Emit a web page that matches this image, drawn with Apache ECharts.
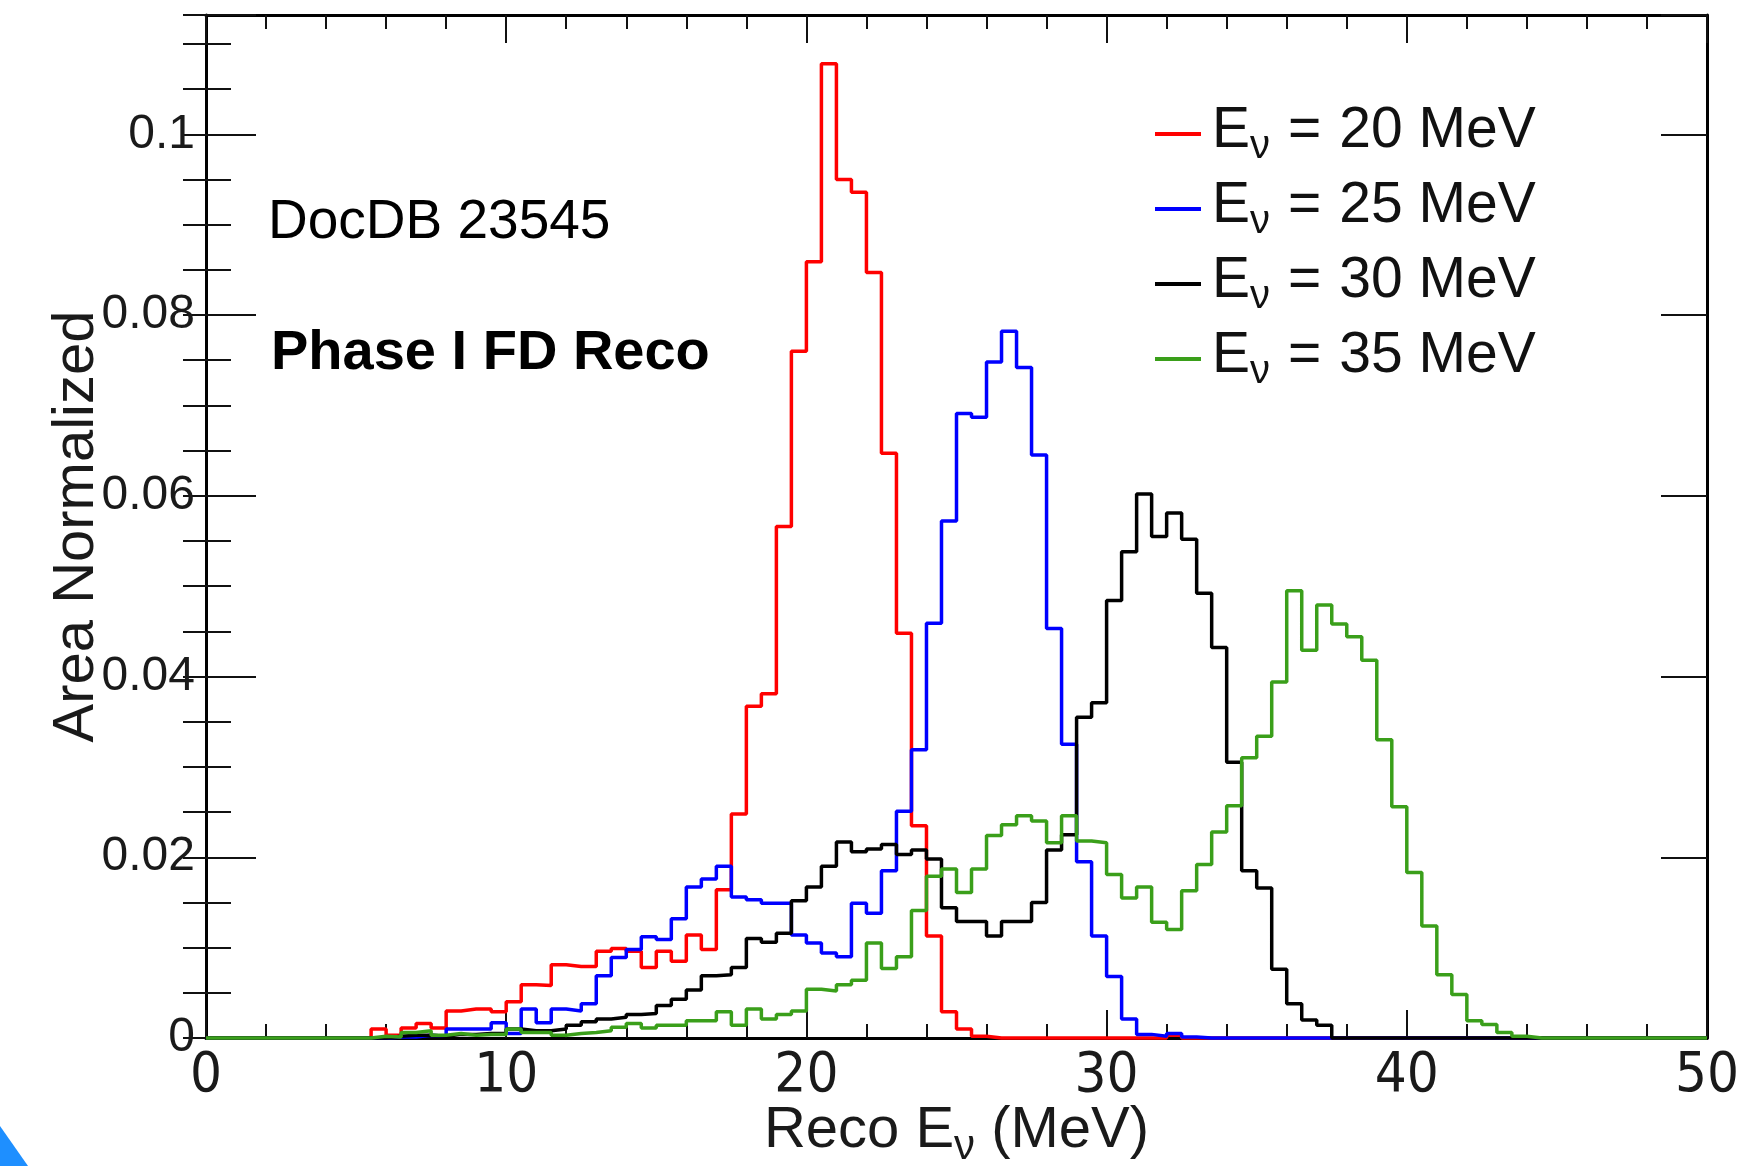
<!DOCTYPE html>
<html>
<head>
<meta charset="utf-8">
<script src="https://cdn.jsdelivr.net/npm/echarts@6/dist/echarts.min.js"></script>
<style>html,body{margin:0;padding:0;background:#fff}#c{width:1751px;height:1166px}</style>
</head>
<body>
<div id="c"></div>
<script>
// ---- binning ----
const binLow = 0;
const binWidth = 0.5;
const nBins = 100;

// ---- legend / series ----
const energies = [20, 25, 30, 35];
const colors = ['#ff0000', '#0000ff', '#000000', '#3a9f1a'];

// ---- histogram contents (area normalized), one value per 0.5 MeV bin ----
const red20 = [
  0,0,0,0,0,0,0,0,0,0,
  0,0.0010,0.0003,0.0011,0.0016,0.0011,0.0030,0.0032,0.0032,0.0029,
  0.0040,0.0059,0.0058,0.0081,0.0079,0.0079,0.0096,0.0099,0.0096,0.0078,
  0.0096,0.0085,0.0114,0.0098,0.0164,0.0248,0.0367,0.0381,0.0566,0.0760,
  0.0859,0.1078,0.0950,0.0936,0.0847,0.0647,0.0448,0.0235,0.0113,0.0029,
  0.0010,0.0002,0,0,0,0,0,0,0,0,
  0,0,0,0,0.0003,0,0,0,0,0,
  0,0,0,0,0,0,0,0,0,0,
  0,0,0,0,0,0,0,0,0,0,
  0,0,0,0,0,0,0,0,0,0
];
const blue25 = [
  0,0,0,0,0,0,0,0,0,0,
  0,0,0.0001,0.0001,0.0003,0.0002,0.0010,0.0010,0.0010,0.0017,
  0.0005,0.0032,0.0017,0.0032,0.0030,0.0038,0.0069,0.0089,0.0098,0.0112,
  0.0109,0.0132,0.0167,0.0176,0.0190,0.0156,0.0153,0.0149,0.0149,0.0114,
  0.0105,0.0094,0.0090,0.0149,0.0138,0.0185,0.0251,0.0319,0.0459,0.0572,
  0.0691,0.0687,0.0748,0.0782,0.0742,0.0645,0.0453,0.0325,0.0195,0.0113,
  0.0068,0.0021,0.0004,0.0002,0.0005,0.0001,0,0,0,0,
  0,0,0,0,0,0,0,0,0,0,
  0,0,0,0,0,0,0,0,0,0,
  0,0,0,0,0,0,0,0,0,0
];
const black30 = [
  0,0,0,0,0,0,0,0,0,0,
  0,0,0.0002,0.0003,0.0003,0.0002,0.0004,0.0004,0.0005,0.0005,
  0.0010,0.0008,0.0008,0.0010,0.0014,0.0018,0.0021,0.0023,0.0026,0.0027,
  0.0036,0.0043,0.0053,0.0069,0.0070,0.0078,0.0110,0.0106,0.0116,0.0152,
  0.0167,0.0190,0.0217,0.0206,0.0209,0.0214,0.0203,0.0208,0.0198,0.0144,
  0.0129,0.0129,0.0113,0.0129,0.0129,0.0150,0.0208,0.0225,0.0355,0.0371,
  0.0484,0.0538,0.0602,0.0555,0.0581,0.0552,0.0492,0.0432,0.0305,0.0185,
  0.0166,0.0076,0.0038,0.0020,0.0014,0,0,0,0,0,
  0,0,0,0,0,0,0,0,0,0,
  0,0,0,0,0,0,0,0,0,0
];
const green35 = [
  0,0,0,0,0,0,0,0,0,0,
  0,0.0002,0.0001,0.0006,0.0008,0.0003,0.0005,0.0003,0.0004,0.0004,
  0.0010,0.0006,0.0006,0.0003,0.0005,0.0006,0.0008,0.0012,0.0016,0.0011,
  0.0014,0.0014,0.0019,0.0019,0.0029,0.0014,0.0032,0.0021,0.0026,0.0030,
  0.0054,0.0052,0.0059,0.0064,0.0105,0.0077,0.0090,0.0141,0.0179,0.0187,
  0.0161,0.0187,0.0224,0.0236,0.0246,0.0240,0.0216,0.0246,0.0218,0.0216,
  0.0181,0.0155,0.0167,0.0128,0.0120,0.0163,0.0192,0.0228,0.0257,0.0310,
  0.0334,0.0394,0.0495,0.0429,0.0479,0.0458,0.0444,0.0418,0.0330,0.0256,
  0.0183,0.0124,0.0070,0.0048,0.0019,0.0015,0.0006,0.0002,0,0,
  0,0,0,0,0,0,0,0,0,0
];
const histograms = [red20, blue25, black30, green35];

// ---- axes ----
const xMin = 0, xMax = 50, xMajor = 10, xMinorSplit = 5;
const yMin = 0, yMax = 0.1132, yMajor = 0.02, yMinor = 0.005;
const yTickLabels = ['0', '0.02', '0.04', '0.06', '0.08', '0.1'];

const FONT = "'Liberation Sans', Arial, Helvetica, sans-serif";
const NARROW = "'Liberation Sans Narrow', 'DejaVu Sans Condensed', 'Liberation Sans', sans-serif";

const names = energies.map(e => 'Eν = ' + e + ' MeV');

function toSteps(vals) {
  const pts = vals.map((v, i) => [binLow + i * binWidth, v]);
  pts.push([binLow + nBins * binWidth, vals[vals.length - 1]]);
  return pts;
}

const series = histograms.map((h, i) => ({
  name: names[i],
  type: 'line',
  step: 'end',
  data: toSteps(h),
  showSymbol: false,
  symbol: 'none',
  clip: false,
  xAxisIndex: 0,
  yAxisIndex: 0,
  lineStyle: { color: colors[i], width: 3.5 },
  itemStyle: { color: colors[i] },
  z: 3 + i
}));

const tickStyle = { color: '#111', width: 2 };

const option = {
  animation: false,
  backgroundColor: '#ffffff',
  grid: { left: 206, right: 44, top: 15, bottom: 128, containLabel: false, outerBoundsMode: 'none' },
  legend: {
    orient: 'vertical',
    left: 1150,
    top: 98,
    itemWidth: 46,
    itemHeight: 4,
    itemGap: 11,
    icon: 'rect',
    data: names,
    formatter: name => {
      const e = energies[names.indexOf(name)];
      return '{e|E}{n|ν}{q|=}{e|' + e + ' MeV}';
    },
    textStyle: {
      padding: [0, 0, 0, 6],
      rich: {
        e: { fontFamily: FONT, fontSize: 57, lineHeight: 66, color: '#111', verticalAlign: 'bottom', padding: [0, 0, 7, 0] },
        n: { fontFamily: FONT, fontSize: 40, lineHeight: 40, color: '#111', verticalAlign: 'bottom' },
        q: { fontFamily: FONT, fontSize: 57, lineHeight: 66, color: '#111', verticalAlign: 'bottom', padding: [0, 18, 7, 18] }
      }
    }
  },
  xAxis: [
    {
      type: 'value', position: 'bottom', min: xMin, max: xMax, interval: xMajor,
      axisLine: { show: true, onZero: false, lineStyle: { color: '#000', width: 3 } },
      axisTick: { show: true, inside: true, length: 28, lineStyle: tickStyle },
      minorTick: { show: true, splitNumber: xMinorSplit, length: 14, lineStyle: tickStyle },
      splitLine: { show: false },
      axisLabel: { show: true, margin: 10, fontFamily: NARROW, fontSize: 56, color: '#1a1a1a' },
      name: '{r|Reco E}{n|ν}{r| (MeV)}',
      nameLocation: 'middle',
      nameGap: 60,
      nameMoveOverlap: false,
      nameTextStyle: {
        rich: {
          r: { fontFamily: FONT, fontSize: 58, lineHeight: 70, color: '#1a1a1a', verticalAlign: 'bottom', padding: [0, 0, 8, 0] },
          n: { fontFamily: FONT, fontSize: 42, lineHeight: 42, color: '#1a1a1a', verticalAlign: 'bottom' }
        }
      }
    },
    {
      type: 'value', position: 'top', min: xMin, max: xMax, interval: xMajor,
      axisLine: { show: true, onZero: false, lineStyle: { color: '#000', width: 3 } },
      axisTick: { show: true, inside: true, length: 28, lineStyle: tickStyle },
      minorTick: { show: true, splitNumber: xMinorSplit, length: 14, lineStyle: tickStyle },
      splitLine: { show: false },
      axisLabel: { show: false }
    }
  ],
  yAxis: [
    {
      type: 'value', position: 'left', min: yMin, max: yMax, interval: yMajor,
      axisLine: { show: true, onZero: false, lineStyle: { color: '#000', width: 3 } },
      axisTick: { show: true, inside: true, length: 50, lineStyle: tickStyle },
      splitLine: { show: false },
      axisLabel: {
        show: true, margin: 11, fontFamily: FONT, fontSize: 48, color: '#1a1a1a',
        padding: [6, 0, 0, 0],
        formatter: v => {
          const k = Math.round(v / yMajor);
          return Math.abs(v - k * yMajor) < 1e-9 && k < yTickLabels.length ? yTickLabels[k] : '';
        }
      },
      name: 'Area Normalized',
      nameLocation: 'middle',
      nameRotate: 90,
      nameGap: 100,
      nameMoveOverlap: false,
      nameTextStyle: { fontFamily: FONT, fontSize: 58, color: '#1a1a1a' }
    },
    {
      type: 'value', position: 'left', min: yMin, max: yMax, interval: yMinor,
      axisLine: { show: false },
      axisTick: { show: true, inside: true, length: 25, lineStyle: tickStyle },
      splitLine: { show: false },
      axisLabel: { show: false }
    },
    {
      type: 'value', position: 'right', min: yMin, max: yMax, interval: yMajor,
      axisLine: { show: true, onZero: false, lineStyle: { color: '#000', width: 3 } },
      axisTick: { show: true, inside: true, length: 46, lineStyle: tickStyle },
      splitLine: { show: false },
      axisLabel: { show: false }
    },
    {
      type: 'value', position: 'right', min: yMin, max: yMax, interval: yMinor,
      axisLine: { show: false },
      axisTick: { show: true, inside: true, length: 23, lineStyle: tickStyle },
      splitLine: { show: false },
      axisLabel: { show: false }
    }
  ],
  series: series,
  graphic: [
    {
      type: 'text', left: 268, top: 195,
      style: { text: 'DocDB 23545', fontFamily: FONT, fontSize: 55, fill: '#000' }
    },
    {
      type: 'text', left: 271, top: 326,
      style: { text: 'Phase I FD Reco', fontFamily: FONT, fontSize: 56, fontWeight: 'bold', fill: '#000' }
    },
    {
      type: 'polygon',
      shape: { points: [[0, 1126], [28, 1166], [0, 1166]] },
      style: { fill: '#1e8fff' }
    }
  ]
};

const chart = echarts.init(document.getElementById('c'), null, { renderer: 'canvas' });
chart.setOption(option);
</script>
</body>
</html>
